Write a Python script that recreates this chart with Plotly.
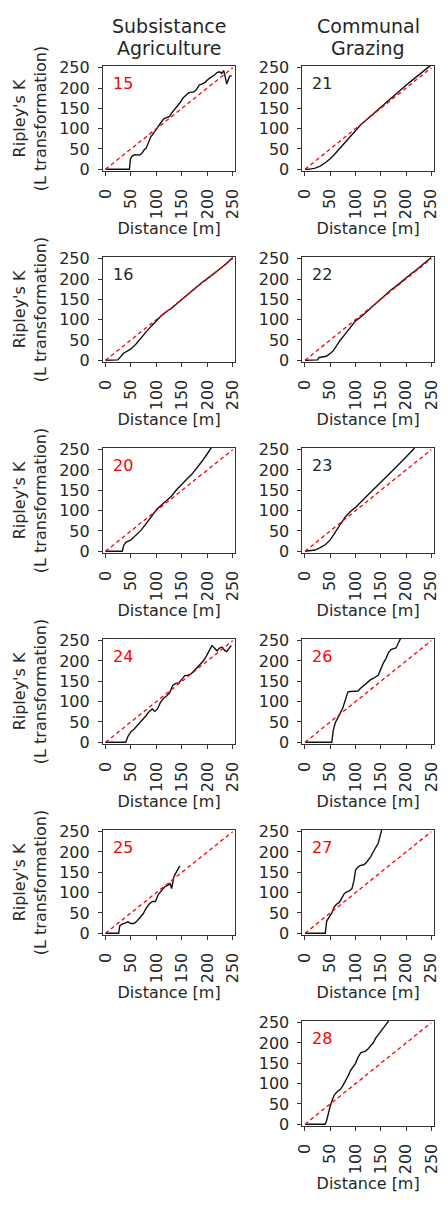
import plotly.graph_objects as go

# Ripley's K (L transformation) curves, distance [m] vs L value, per site
dist_15 = [0, 45, 47, 49, 52, 57, 62, 67, 72, 76, 80, 84, 89, 94, 100, 105, 110, 115, 120, 126, 131, 136,
           142, 147, 152, 157, 162, 167, 173, 178, 184, 190, 196, 202, 208, 214, 219, 224, 228, 232, 235,
           238, 241, 244, 248]
lval_15 = [0, 0, 0, 25, 32, 36, 36, 35, 40, 48, 52, 65, 80, 88, 100, 108, 117, 125, 128, 130, 140, 148,
           155, 165, 175, 182, 187, 190, 190, 195, 207, 210, 214, 222, 226, 232, 238, 240, 236, 243, 228,
           210, 220, 229, 230]

dist_21 = [0, 10, 20, 30, 40, 50, 60, 70, 80, 90, 100, 110, 120, 130, 140, 150, 160, 170, 180, 190, 200,
           210, 220, 230, 240, 248]
lval_21 = [0, 0.5, 3, 8, 16, 26, 39, 53, 68, 83, 97, 109, 120, 131, 143, 154, 165, 176, 187, 197, 207,
           217, 227, 237, 247, 255]

dist_16 = [0, 10, 20, 24, 28, 32, 36, 42, 50, 60, 70, 80, 90, 100, 110, 120, 130, 140, 150, 160, 170, 180,
           190, 200, 210, 220, 230, 240, 250]
lval_16 = [0, 0, 0, 1, 6, 12, 18, 22, 28, 40, 56, 70, 84, 98, 110, 120, 128, 139, 150, 160, 172, 182, 192,
           201, 210, 219, 230, 241, 253]

dist_22 = [0, 10, 20, 25, 28, 35, 42, 48, 55, 62, 70, 80, 90, 100, 110, 120, 130, 140, 150, 160, 170, 180,
           190, 200, 210, 220, 230, 240, 250]
lval_22 = [0, 0, 0, 1, 7, 8, 10, 15, 22, 35, 50, 65, 80, 97, 106, 117, 129, 141, 152, 163, 173, 182, 193,
           203, 213, 222, 232, 241, 253]

dist_20 = [0, 10, 20, 30, 33, 36, 40, 50, 60, 70, 80, 90, 100, 110, 120, 130, 140, 150, 160, 170, 180, 190,
           200, 208]
lval_20 = [0, 0, 0, 0, 0, 15, 22, 28, 40, 52, 68, 86, 102, 114, 125, 136, 152, 166, 178, 190, 205, 222,
           240, 255]

dist_23 = [0, 10, 20, 30, 40, 50, 60, 70, 80, 90, 100, 120, 140, 160, 180, 200, 217]
lval_23 = [0, 1, 3, 9, 16, 28, 48, 68, 85, 98, 108, 133, 157, 182, 207, 232, 254]

dist_24 = [0, 20, 40, 44, 50, 56, 62, 68, 74, 80, 86, 92, 97, 102, 108, 114, 120, 126, 132, 138, 144, 150,
           156, 162, 168, 174, 180, 186, 192, 198, 204, 209, 214, 219, 224, 229, 234, 238, 242, 247]
lval_24 = [0, 0, 0, 14, 26, 32, 40, 48, 57, 66, 76, 82, 76, 82, 98, 108, 114, 122, 140, 145, 146, 155,
           164, 165, 168, 176, 184, 192, 200, 212, 228, 238, 232, 225, 232, 234, 226, 223, 230, 238]

dist_26 = [0, 20, 40, 53, 56, 60, 65, 70, 75, 80, 85, 90, 95, 100, 105, 110, 115, 120, 125, 130, 135, 140,
           145, 150, 155, 160, 165, 170, 175, 180, 185, 189]
lval_26 = [0, 0, 0, 0, 30, 48, 60, 72, 85, 105, 124, 125, 125, 125, 126, 133, 138, 143, 150, 154, 157, 160,
           165, 180, 195, 205, 220, 228, 230, 232, 245, 255]

dist_25 = [0, 10, 20, 26, 28, 32, 38, 44, 50, 56, 62, 68, 74, 80, 86, 92, 98, 104, 110, 116, 122, 127, 130,
           134, 138, 142, 146]
lval_25 = [0, 0, 0, 0, 18, 22, 25, 28, 24, 24, 30, 38, 48, 62, 72, 78, 78, 96, 106, 114, 118, 122, 110,
           138, 148, 158, 166]

dist_27 = [0, 20, 40, 43, 48, 53, 58, 63, 68, 73, 78, 83, 88, 93, 97, 100, 104, 110, 115, 120, 125, 130,
           135, 140, 145, 152]
lval_27 = [0, 0, 0, 30, 40, 50, 65, 72, 76, 88, 98, 102, 104, 110, 130, 155, 162, 167, 168, 172, 180, 188,
           200, 210, 222, 255]

dist_28 = [0, 20, 40, 43, 46, 50, 54, 58, 62, 66, 70, 75, 80, 85, 90, 95, 100, 105, 110, 115, 120, 125,
           130, 135, 140, 145, 150, 155, 160, 166]
lval_28 = [0, 0, 0, 10, 28, 45, 60, 72, 78, 82, 86, 95, 106, 118, 132, 142, 150, 165, 175, 178, 180, 186,
           192, 200, 212, 220, 228, 236, 245, 255]

# Complete spatial randomness reference: L(d) = d
csr_dist = [0, 250]
csr_lval = [0, 250]

tick_vals = [0, 50, 100, 150, 200, 250]
column_titles = [["Subsistance", "Agriculture"], ["Communal", "Grazing"]]
x_title = "Distance [m]"
y_title = "Ripley's K<br>(L transformation)"

# (site label, label colour, distances, L values, column, row)
panels = [
    ("15", "red", dist_15, lval_15, 0, 0),
    ("21", "#262626", dist_21, lval_21, 1, 0),
    ("16", "#262626", dist_16, lval_16, 0, 1),
    ("22", "#262626", dist_22, lval_22, 1, 1),
    ("20", "red", dist_20, lval_20, 0, 2),
    ("23", "#262626", dist_23, lval_23, 1, 2),
    ("24", "red", dist_24, lval_24, 0, 3),
    ("26", "red", dist_26, lval_26, 1, 3),
    ("25", "red", dist_25, lval_25, 0, 4),
    ("27", "red", dist_27, lval_27, 1, 4),
    ("28", "red", dist_28, lval_28, 1, 5),
]

W, H = 448, 1205
COL_X = [(99.0, 235.7), (305.0, 440.6)]
ROW_TOP0, ROW_STEP, PANEL_H = 59.4, 193.4, 107.0
TEXT = "#262626"
FRAME = "#333333"
FONT = "DejaVu Sans"

fig = go.Figure()
layout = dict(
    width=W, height=H,
    margin=dict(l=0, r=0, t=0, b=0),
    paper_bgcolor="white", plot_bgcolor="white",
    showlegend=False,
    font=dict(family=FONT, color=TEXT),
)
annotations = []

for i, (label, lcolor, xs, ys, col, row) in enumerate(panels):
    n = i + 1
    xa, ya = ("x", "y") if n == 1 else (f"x{n}", f"y{n}")
    xkey, ykey = ("xaxis", "yaxis") if n == 1 else (f"xaxis{n}", f"yaxis{n}")
    top = ROW_TOP0 + ROW_STEP * row
    bottom = top + PANEL_H
    x0, x1 = COL_X[col]

    fig.add_trace(go.Scatter(x=xs, y=ys, mode="lines", xaxis=xa, yaxis=ya,
                             line=dict(color="#111111", width=1.4), hoverinfo="skip"))
    fig.add_trace(go.Scatter(x=csr_dist, y=csr_lval, mode="lines", xaxis=xa, yaxis=ya,
                             line=dict(color="red", width=1.3, dash="4px,3px"), hoverinfo="skip"))

    common = dict(
        range=[-5, 255], tickvals=tick_vals, ticks="outside", ticklen=4, tickwidth=1,
        tickcolor=FRAME, showline=True, linecolor=FRAME, linewidth=1, mirror=True,
        showgrid=False, zeroline=False, tickfont=dict(size=16, family=FONT, color=TEXT),
        fixedrange=True,
    )
    layout[xkey] = dict(
        common, domain=[x0 / W, x1 / W], anchor=ya, tickangle=-90, ticklabelstandoff=6,
        title=dict(text=x_title, font=dict(size=16, family=FONT, color=TEXT), standoff=0),
    )
    ydict = dict(common, domain=[1 - bottom / H, 1 - top / H], anchor=xa, ticklabelstandoff=5)
    if col == 0:
        ydict["title"] = dict(text=y_title, font=dict(size=16, family=FONT, color=TEXT), standoff=8)
    layout[ykey] = ydict

    annotations.append(dict(
        text=label, x=10, y=212, xref=xa, yref=ya, xanchor="left", yanchor="middle",
        showarrow=False, font=dict(size=16, family=FONT, color=lcolor),
    ))

for col, lines in enumerate(column_titles):
    x0, x1 = COL_X[col]
    for k, line in enumerate(lines):
        annotations.append(dict(
            text=line, x=(x0 + x1) / 2 / W, y=1 - (19 + 23 * k) / H, xref="paper", yref="paper",
            xanchor="center", yanchor="middle", showarrow=False,
            font=dict(size=19, family=FONT, color=TEXT),
        ))

layout["annotations"] = annotations
fig.update_layout(**layout)
fig.write_html("out.html")
